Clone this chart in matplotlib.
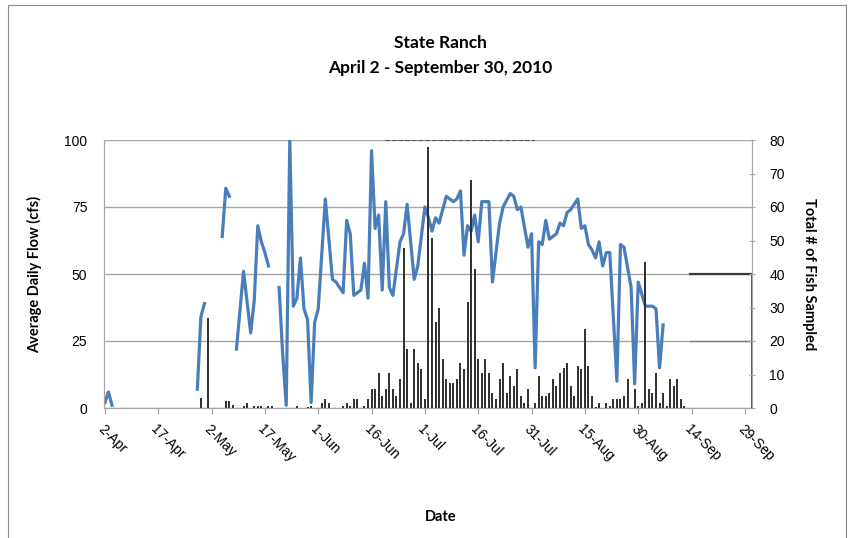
import numpy as np
import matplotlib
matplotlib.use('Agg')
import matplotlib.pyplot as plt
from matplotlib.patches import Rectangle

# Season start; all series are given as day offsets from 2-Apr-2010
start = np.datetime64('2010-04-02')

# Average daily flow (cfs): line vertices, NaN = gap in the record
flow_days = [0, 1, 2, 3,
             26, 27, 28, 29,
             33, 34, 35, 36,
             37, 39, 41, 42, 43, 44, 45, 46, 47,
             49, 50, 51, 52, 53, 54, 55, 56, 57, 58, 59, 60, 62, 64, 65, 67, 68, 69, 70,
             72, 73, 74, 75, 76, 77, 78, 79, 80, 81, 83, 84, 85, 87, 88, 90, 91, 92, 93,
             94, 96, 98, 99, 100, 101, 102, 103, 104, 105, 106, 108, 109, 111, 112, 114,
             115, 116, 117, 119, 120, 121, 122, 123, 124, 125, 127, 128, 129, 130, 131,
             133, 134, 135, 136, 137, 138, 139, 140, 141, 142, 144, 145, 146, 148, 149,
             150, 152, 154, 155, 156, 157]
flow_cfs = [2, 6, 1, np.nan,
            7, 34, 39, np.nan,
            64, 82, 79, np.nan,
            22, 51, 28, 40, 68, 62, 58, 53, np.nan,
            45, 20, 1, 100, 38, 41, 56, 37, 33, 2, 32, 37, 78, 48, 47, 43, 70, 65, 42,
            44, 54, 41, 96, 67, 72, 44, 77, 45, 42, 62, 65, 76, 48, 53, 75, 71, 66, 71,
            69, 79, 77, 78, 81, 57, 68, 66, 72, 62, 77, 77, 47, 69, 75, 80,
            79, 74, 75, 60, 65, 15, 62, 61, 70, 63, 65, 69, 68, 73, 74,
            78, 67, 68, 61, 59, 56, 62, 53, 58, 58, 10, 61, 60, 45, 9,
            47, 38, 38, 37, 15, 31]

# Total number of fish sampled per day
fish_days = [27, 29, 34, 35, 36, 39, 40, 42, 43, 44, 46, 47, 54, 57, 58, 61, 62, 63,
             67, 68, 69, 70, 71, 73, 74, 75, 76, 77, 78, 79, 80, 81, 82, 83, 84, 85, 86,
             87, 88, 89, 90, 91, 92, 93, 94, 95, 96, 97, 98, 99, 100, 101, 102, 103, 104,
             105, 106, 107, 108, 109, 110, 111, 112, 113, 114, 115, 116, 117, 118, 119,
             121, 122, 123, 124, 125, 126, 127, 128, 129, 130, 131, 132, 133, 134, 135,
             136, 137, 138, 139, 141, 142, 143, 144, 145, 146, 147, 149, 150, 151, 152,
             153, 154, 155, 156, 157, 158, 159, 160, 161, 162, 163]
fish_count = [3, 27, 2, 2, 1, 0.6, 1.6, 0.6, 0.6, 0.6, 0.6, 0.6, 0.6, 0.4, 0.6, 1.6, 2.6, 1.6,
              0.6, 1.6, 0.6, 2.6, 2.6, 0.6, 2.6, 5.6, 5.6, 10.3, 3.6, 5.6, 10.3, 5.6, 3.6, 8.6, 47.7, 17.5, 1.6,
              17.5, 13.3, 11.5, 2.6, 78, 50.6, 25.8, 29.8, 14.5, 8.6, 7.6, 7.6, 8.6, 13.5, 11.5, 31.7, 68, 41.4,
              14.5, 10.5, 14.5, 10.5, 4.6, 2.6, 8.6, 13.5, 4.6, 9.6, 6.6, 11.5, 3.6, 1.6, 5.6,
              1.6, 9.6, 3.6, 3.6, 4.6, 8.6, 6.6, 10.5, 11.8, 13.5, 6.6, 3.6, 12.5, 11.5, 23.6,
              12.5, 3.6, 0.4, 1.6, 1.6, 0.6, 2.6, 2.6, 2.6, 3.6, 8.6, 5.6, 0.6, 1.6, 43.7,
              5.6, 4.6, 10.5, 1.6, 4.6, 0.6, 8.6, 6.6, 8.6, 2.6, 0.6]

tick_labels = ['2-Apr', '17-Apr', '2-May', '17-May', '1-Jun', '16-Jun', '1-Jul',
               '16-Jul', '31-Jul', '15-Aug', '30-Aug', '14-Sep', '29-Sep']

flow_dates = start + np.array(flow_days).astype('timedelta64[D]')
fish_dates = start + np.array(fish_days).astype('timedelta64[D]')
tick_dates = start + (15 * np.arange(len(tick_labels))).astype('timedelta64[D]')

plt.rcParams['font.family'] = ['Liberation Sans', 'DejaVu Sans']
lab_font = dict(family='Lato', weight='bold', size=10.5)

fig = plt.figure(figsize=(8.62, 5.38), dpi=100)
fig.patches.append(Rectangle((8 / 862, -0.01), 838 / 862, 1.0, transform=fig.transFigure,
                             fill=False, edgecolor='#8c8c8c', linewidth=0.8))
ax = fig.add_axes([104 / 862, 1 - 408 / 538, 648 / 862, 268 / 538])
ax2 = ax.twinx()

ax.plot(flow_dates, flow_cfs, color='#4A7EBB', linewidth=2.3, zorder=3)
ax2.bar(fish_dates, fish_count, width=0.55, color='#333333', zorder=2)

ax.set_ylim(0, 100)
ax.set_yticks([0, 25, 50, 75, 100])
ax2.set_ylim(0, 80)
ax2.set_yticks(range(0, 81, 10))
ax.set_xlim(start - np.timedelta64(6, 'h'), start + np.timedelta64(182, 'D'))
ax.set_xticks(tick_dates)
ax.set_xticklabels(tick_labels, rotation=-45, ha='left', va='top',
                   rotation_mode='anchor', fontsize=10)

ax.grid(axis='y', color='#a6a6a6', linewidth=1)
ax.set_axisbelow(True)
for a in (ax, ax2):
    a.spines['top'].set_visible(False)
    for s in ('left', 'right', 'bottom'):
        a.spines[s].set_color('#a6a6a6')
ax.tick_params(axis='x', direction='out', length=4, color='#a6a6a6', pad=6)
ax.tick_params(axis='y', length=0, labelsize=10, pad=12)
ax2.tick_params(axis='y', direction='inout', length=5, color='#a6a6a6', labelsize=10, pad=10)

# scan marks seen on the source image
ax.axhline(100, 0.434, 0.665, color='#404040', linewidth=1.2, linestyle=(0, (3, 1)), zorder=4)
ax.axhline(50, 0.905, 1.0, color='#3a3a3a', linewidth=1.6, zorder=4)
ax.axhline(25, 0.905, 1.0, color='#808080', linewidth=1, zorder=4)
ax.axvline(ax.get_xlim()[1], 0, 0.5, color='#3a3a3a', linewidth=1.2, zorder=4)

ax.set_ylabel('Average Daily Flow (cfs)', fontdict=lab_font, labelpad=16)
ax2.set_ylabel('Total # of Fish Sampled', fontdict=lab_font, rotation=270, labelpad=22)
fig.text(441 / 862, 1 - 517 / 538, 'Date', ha='center', va='center', **lab_font)

fig.text(440 / 862, 1 - 43 / 538, 'State Ranch', ha='center', va='center',
         family='Lato', weight='bold', size=12.5)
fig.text(440 / 862, 1 - 68 / 538, 'April 2 - September 30, 2010', ha='center', va='center',
         family='Lato', weight='bold', size=12.5)

fig.savefig('out.png', dpi=100)
